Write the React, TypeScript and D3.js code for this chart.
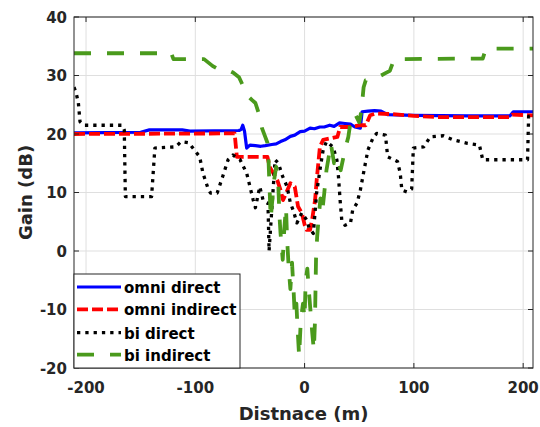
import React from "react";
import * as d3 from "d3";

const xTicks = [-200, -100, 0, 100, 200];
const yTicks = [-20, -10, 0, 10, 20, 30, 40];

const seriesNames = ["omni direct", "omni indirect", "bi direct", "bi indirect"];

const omniDirect: [number, number][] = [
  [-211, 20.2], [-150, 20.3], [-142, 20.7], [-112, 20.7], [-105, 20.5], [-60, 20.6], [-58, 20.8],
  [-56.6, 21.5], [-55, 20.5], [-53, 17.6], [-50, 18.1], [-45, 18.0], [-40, 17.9], [-36, 18.0],
  [-30, 18.2], [-26, 18.3], [-22, 18.7], [-18, 19.0], [-13, 19.6], [-9, 19.8], [-4, 20.4], [0, 20.5],
  [5, 21.0], [9, 20.9], [14, 21.2], [18, 21.2], [23, 21.5], [27, 21.3], [32, 21.9], [37, 21.8],
  [42, 21.7], [46, 21.2], [51, 21.0], [52.6, 23.8], [58, 23.9], [64, 24.0], [70, 23.9], [76, 23.3],
  [100, 23.2], [150, 23.1], [188, 23.1], [191, 23.8], [209, 23.8],
];

const omniIndirect: [number, number][] = [
  [-211, 20.0], [-64, 20.1], [-62, 16.1], [-34, 16.1], [-32, 14.4], [-25, 12.1], [-22, 10.4],
  [-19.7, 8.7], [-13, 11.6], [-9, 11.0], [-6, 7.6], [-2.6, 6.5], [0, 4.5], [2, 3.6], [5, 3.6],
  [7, 5.5], [9.6, 8.7], [11, 12], [14, 17.8], [17, 19.0], [25, 19.3], [30, 19.5], [32.5, 21.2],
  [40, 21.2], [51, 21.5], [56, 21.5], [60, 23.2], [65, 23.5], [80, 23.4], [100, 23.1], [120, 22.9],
  [188, 22.9], [190, 23.3], [209, 23.2],
];

const biDirect: [number, number][] = [
  [-211, 28.0], [-209, 27.0], [-207, 25.3], [-205.5, 22.1], [-202, 21.5], [-167, 21.5], [-165, 20.7],
  [-164, 9.3], [-140, 9.3], [-137, 17.6], [-118, 17.8], [-113, 18.7], [-106, 18.5], [-96, 16.1],
  [-93, 13.3], [-88, 10.5], [-86, 9.9], [-80, 9.9], [-75, 12.7], [-70, 15.6], [-65.5, 16.4],
  [-59, 15.6], [-53, 13.3], [-50, 11.0], [-47, 8.7], [-45, 7.4], [-41, 11.0], [-38, 8.7],
  [-33.5, 8.2], [-32.5, 0.0], [-27, 15.6], [-24, 15.0], [-20, 12.7], [-16, 11.0], [-13, 8.2],
  [-10.5, 7.0], [-7, 4.8], [-2.6, 6.5], [2, 5.3], [4, 4.0], [8, 3.0], [11, 9.9], [14, 13.8],
  [17, 17.3], [20, 18.7], [26, 17.8], [29.5, 15.6], [31, 12.7], [32.5, 8.7], [34, 5.3], [37, 4.4],
  [42, 4.8], [44, 7.0], [48, 8.2], [51, 10.4], [55, 14.4], [58, 17.3], [63, 19.5], [66, 20.1],
  [74, 19.8], [76, 16.1], [85, 15.3], [87.5, 13.3], [89, 10.4], [93.5, 10.1], [98, 10.6],
  [99.5, 17.6], [109, 17.8], [115, 19.5], [127, 19.7], [136, 19.0], [149, 18.4], [160, 18.1],
  [163, 15.6], [204, 15.6], [205, 23.0], [209, 23.2],
];

const biIndirect: [number, number][] = [
  [-211, 33.8], [-122, 33.8], [-120, 32.8], [-92, 32.8], [-88, 32.2], [-84, 31.6], [-78, 31.0],
  [-70, 30.9], [-65.5, 30.5], [-60, 29.7], [-57, 28.5], [-53, 26.7], [-48, 25.8], [-45, 25.3],
  [-41, 23.0], [-39, 21.0], [-36, 19.5], [-34, 18.5], [-33, 15.5], [-31, 5.5], [-28, 12],
  [-26, 14.4], [-24, 11], [-23, 6], [-22, 3], [-20, -1.5], [-18.5, 4], [-17, 7.5], [-16, 2],
  [-14.5, -3], [-13, -6.5], [-11.5, -2], [-10, -7], [-9, -11], [-7.5, -9], [-6.5, -13], [-5, -18],
  [-3.5, -12], [-1.5, -9], [0, -11.5], [1, -5], [2.5, -3], [4, -7], [5.5, -10.5], [7, -14],
  [8.5, -17], [9.5, -12], [10.5, -1], [11.5, 2.4], [13, 6], [14.5, 9], [16, 6.5], [18, 9.9],
  [20, 13.8], [22, 16], [24, 18.4], [27, 15], [30, 16.1], [33, 13.8], [37, 17.3], [40, 19.5],
  [42, 22], [46, 23.5], [50, 22], [52, 24], [54, 28], [56, 29.2], [63, 29.5], [70, 30.0],
  [74, 30.4], [78, 30.8], [82, 32.8], [163, 32.9], [166, 34.6], [209, 34.6],
];

const W = 540;
const H = 427;
const L = 74, R = 533, T = 17, B = 368;
const FONT = "'DejaVu Sans', sans-serif";

const styles = [
  { data: omniDirect, color: "#0000ff", width: 3.2, dash: "" },
  { data: omniIndirect, color: "#ff0000", width: 3.8, dash: "11 4" },
  { data: biDirect, color: "#000000", width: 3.3, dash: "3.3 5" },
  { data: biIndirect, color: "#4a9a1c", width: 3.8, dash: "17 16" },
];

export default function App() {
  const x = d3.scaleLinear().domain([-211, 209]).range([L, R]);
  const y = d3.scaleLinear().domain([-20, 40]).range([B, T]);
  const line = d3
    .line<[number, number]>()
    .x((d) => x(d[0]))
    .y((d) => y(d[1]));

  const legX = L, legY = 274, legW = 166, legH = B - 274;
  const rowY = [287, 309.3, 332.7, 354.7];

  return (
    <svg
      width={W}
      height={H}
      style={{ position: "absolute", left: 0, top: 0, background: "#fff" }}
      fontFamily={FONT}
      fontWeight="bold"
    >
      <defs>
        <clipPath id="plotclip">
          <rect x={L} y={T} width={R - L} height={B - T} />
        </clipPath>
      </defs>
      <rect x={0} y={0} width={W} height={H} fill="#fff" />
      {/* grid */}
      {xTicks.map((t) => (
        <line key={"gx" + t} x1={x(t)} x2={x(t)} y1={T} y2={B} stroke="#dfdfdf" strokeWidth={1} />
      ))}
      {yTicks.map((t) => (
        <line key={"gy" + t} x1={L} x2={R} y1={y(t)} y2={y(t)} stroke="#dfdfdf" strokeWidth={1} />
      ))}
      {/* series */}
      <g clipPath="url(#plotclip)">
        {styles.map((s, i) => (
          <path
            key={i}
            d={line(s.data) || ""}
            fill="none"
            stroke={s.color}
            strokeWidth={s.width}
            strokeDasharray={s.dash || undefined}
            strokeLinejoin="round"
          />
        ))}
      </g>
      {/* axes box */}
      <rect x={L} y={T} width={R - L} height={B - T} fill="none" stroke="#262626" strokeWidth={1} />
      {xTicks.map((t) => (
        <g key={"tx" + t}>
          <line x1={x(t)} x2={x(t)} y1={B} y2={B - 5} stroke="#262626" />
          <line x1={x(t)} x2={x(t)} y1={T} y2={T + 5} stroke="#262626" />
          <text x={x(t)} y={393} textAnchor="middle" fontSize={15} fill="#262626">
            {t}
          </text>
        </g>
      ))}
      {yTicks.map((t) => (
        <g key={"ty" + t}>
          <line x1={L} x2={L + 5} y1={y(t)} y2={y(t)} stroke="#262626" />
          <line x1={R} x2={R - 5} y1={y(t)} y2={y(t)} stroke="#262626" />
          <text x={67} y={y(t) + 5.5} textAnchor="end" fontSize={15} fill="#262626">
            {t}
          </text>
        </g>
      ))}
      {/* axis labels */}
      <text x={(L + R) / 2} y={420} textAnchor="middle" fontSize={18} fill="#262626">
        Distnace (m)
      </text>
      <text
        transform={`translate(32,${(T + B) / 2}) rotate(-90)`}
        textAnchor="middle"
        fontSize={18}
        fill="#262626"
      >
        Gain (dB)
      </text>
      {/* legend */}
      <rect x={legX} y={legY} width={legW} height={legH} fill="#fff" stroke="#262626" strokeWidth={1} />
      {styles.map((s, i) => (
        <g key={"lg" + i}>
          <line
            x1={77}
            x2={121}
            y1={rowY[i]}
            y2={rowY[i]}
            stroke={s.color}
            strokeWidth={s.width}
            strokeDasharray={s.dash || undefined}
          />
          <text x={124} y={rowY[i] + 6} fontSize={15} fill="#000">
            {seriesNames[i]}
          </text>
        </g>
      ))}
    </svg>
  );
}
